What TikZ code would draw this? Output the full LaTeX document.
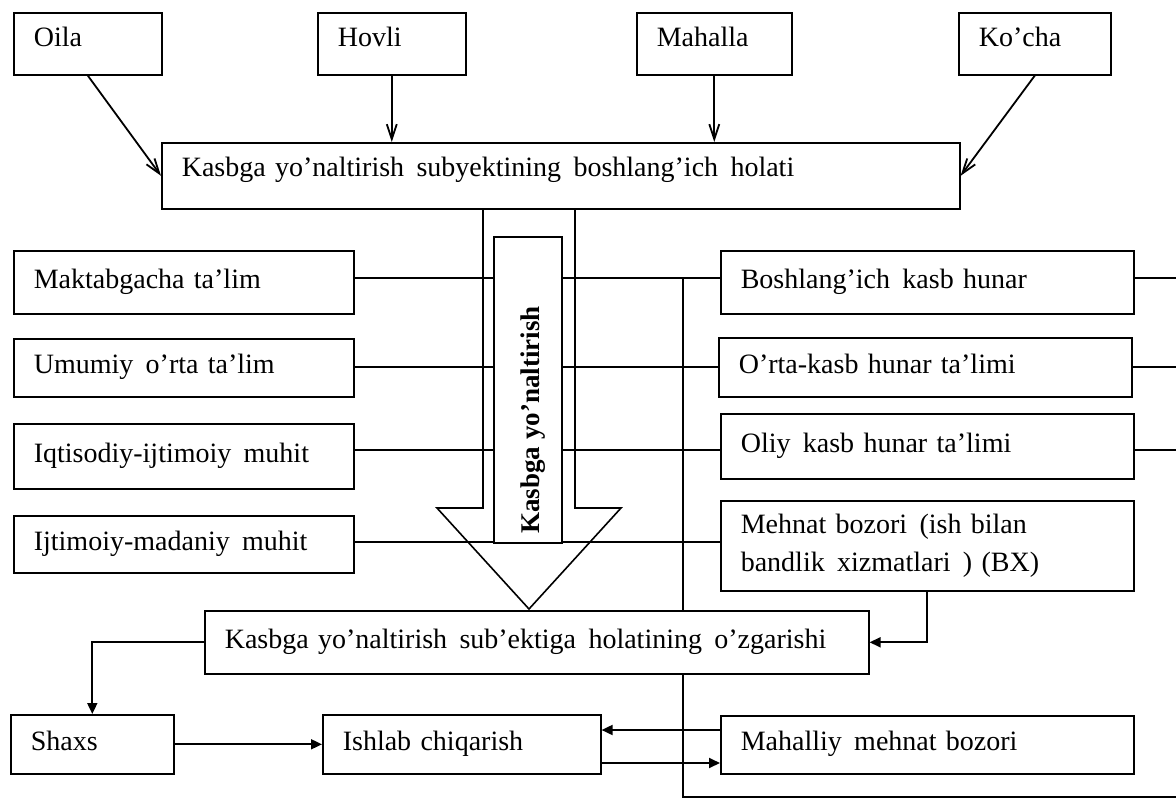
\documentclass[tikz,border=0pt]{standalone}
\usepackage{fontspec}
\setmainfont{Liberation Serif}
\usetikzlibrary{arrows.meta,calc,backgrounds}
% a slightly widened word space
\newcommand{\wgap}{\hspace{3pt}}
\begin{document}
\begin{tikzpicture}[x=1pt,y=-1pt,
  every node/.style={font=\fontsize{28}{38}\selectfont},
  box/.style={draw,line width=1.6pt,fill=white,anchor=north west,
              inner xsep=20pt,inner ysep=0pt,align=left},
  one/.style={text height=18pt,text depth=6pt},
  topone/.style={text height=18pt,text depth=12pt},
  feed/.style={line width=1.8pt,-{Straight Barb[length=15pt,width=10pt]}},
  flow/.style={line width=1.8pt,-{Triangle[length=11pt,width=10pt]}},
  link/.style={line width=1.4pt},
]
\useasboundingbox (0,0) rectangle (1176,798);

% sources of the initial state
\node[box,topone,text width=108pt,minimum height=62pt] (oila) at (13,12) {Oila};
\node[box,topone,text width=108pt,minimum height=62pt] (hovli) at (317,12) {Hovli};
\node[box,topone,text width=115pt,minimum height=62pt] (mahalla) at (636,12) {Mahalla};
\node[box,topone,text width=112pt,minimum height=62pt] (kocha) at (958,12) {Ko’cha};

\node[box,text height=18pt,text depth=16pt,text width=758pt,minimum height=66pt] (start) at (161,142)
  {Kasbga yo’naltirish \wgap subyektining \wgap boshlang’ich \wgap holati};

% left column
\node[box,one,text width=300pt,minimum height=63pt] (mak) at (13,250) {Maktabgacha ta’lim};
\node[box,one,text width=300pt,minimum height=58pt] (umu) at (13,338) {Umumiy \wgap o’rta ta’lim};
\node[box,one,text width=300pt,minimum height=65pt] (iqt) at (13,423) {Iqtisodiy-ijtimoiy \wgap muhit};
\node[box,one,text width=300pt,minimum height=57pt] (ijt) at (13,515) {Ijtimoiy-madaniy \wgap muhit};

% right column
\node[box,one,text width=373pt,minimum height=63pt] (bosh) at (720,250) {Boshlang’ich \wgap kasb hunar};
\node[box,one,text width=373pt,minimum height=59pt] (orta) at (718,337) {O’rta-kasb hunar ta’limi};
\node[box,one,text width=373pt,minimum height=65pt] (oliy) at (720,413) {Oliy \wgap kasb hunar ta’limi};
\node[box,text width=373pt,minimum height=90pt] (mehnat) at (720,500)
  {Mehnat bozori \wgap (ish bilan\\bandlik \wgap xizmatlari \wgap ) (BX)};

% changed state and below
\node[box,one,text width=624pt,minimum height=63pt] (change) at (204,610)
  {Kasbga yo’naltirish \wgap sub’ektiga \wgap holatining \wgap o’zgarishi};
\node[box,one,text width=123pt,minimum height=59pt] (shaxs) at (10,714) {Shaxs};
\node[box,one,text width=238pt,minimum height=59pt] (ishlab) at (322,714) {Ishlab chiqarish};
\node[box,one,text width=373pt,minimum height=58pt] (mahalliy) at (720,715) {Mahalliy \wgap mehnat bozori};

% label box inside the big arrow
\node[draw,line width=1.6pt,fill=white,minimum width=68pt,minimum height=306pt,inner sep=0pt]
  (kybox) at (528,390) {};
\node[rotate=90,anchor=base,font=\bfseries\fontsize{27}{32}\selectfont] (kylabel) at (539,420)
  {Kasbga yo’naltirish};

\coordinate (r1) at (0,278);
\coordinate (r2) at (0,367);
\coordinate (r3) at (0,450);
\coordinate (r4) at (0,542);
\coordinate (edge) at (1176,0);
\coordinate (bus) at (683,278);
\coordinate (busend) at (683,797);
\coordinate (m1) at (0,730);
\coordinate (m2) at (0,763);

\begin{scope}[on background layer]
  % row connections
  \draw[link] (mak.east |- r1) -- (bosh.west |- r1);
  \draw[link] (umu.east |- r2) -- (orta.west |- r2);
  \draw[link] (iqt.east |- r3) -- (oliy.west |- r3);
  \draw[link] (ijt.east |- r4) -- (mehnat.west |- r4);
  \draw[link] (bosh.east |- r1) -- (edge |- r1);
  \draw[link] (orta.east |- r2) -- (edge |- r2);
  \draw[link] (oliy.east |- r3) -- (edge |- r3);
  \draw[link] (bus) -- (busend) -- (edge |- busend);
  % big downward arrow
  \draw[line width=1.6pt] (483,208) -- (483,508) -- (437,508) -- (529,609)
    -- (621,508) -- (575,508) -- (575,208);
\end{scope}

\draw[feed] (oila.south) -- (start.west);
\draw[feed] (hovli.south) -- (hovli.south |- start.north);
\draw[feed] (mahalla.south) -- (mahalla.south |- start.north);
\draw[feed] (kocha.south) -- (start.east);

\draw[flow] (mehnat.south) |- (change.east);
\draw[flow] (change.west) -| (shaxs.north);
\draw[flow] (shaxs.east) -- (ishlab.west);
\draw[flow] (mahalliy.west |- m1) -- (ishlab.east |- m1);
\draw[flow] (ishlab.east |- m2) -- (mahalliy.west |- m2);
\end{tikzpicture}
\end{document}
